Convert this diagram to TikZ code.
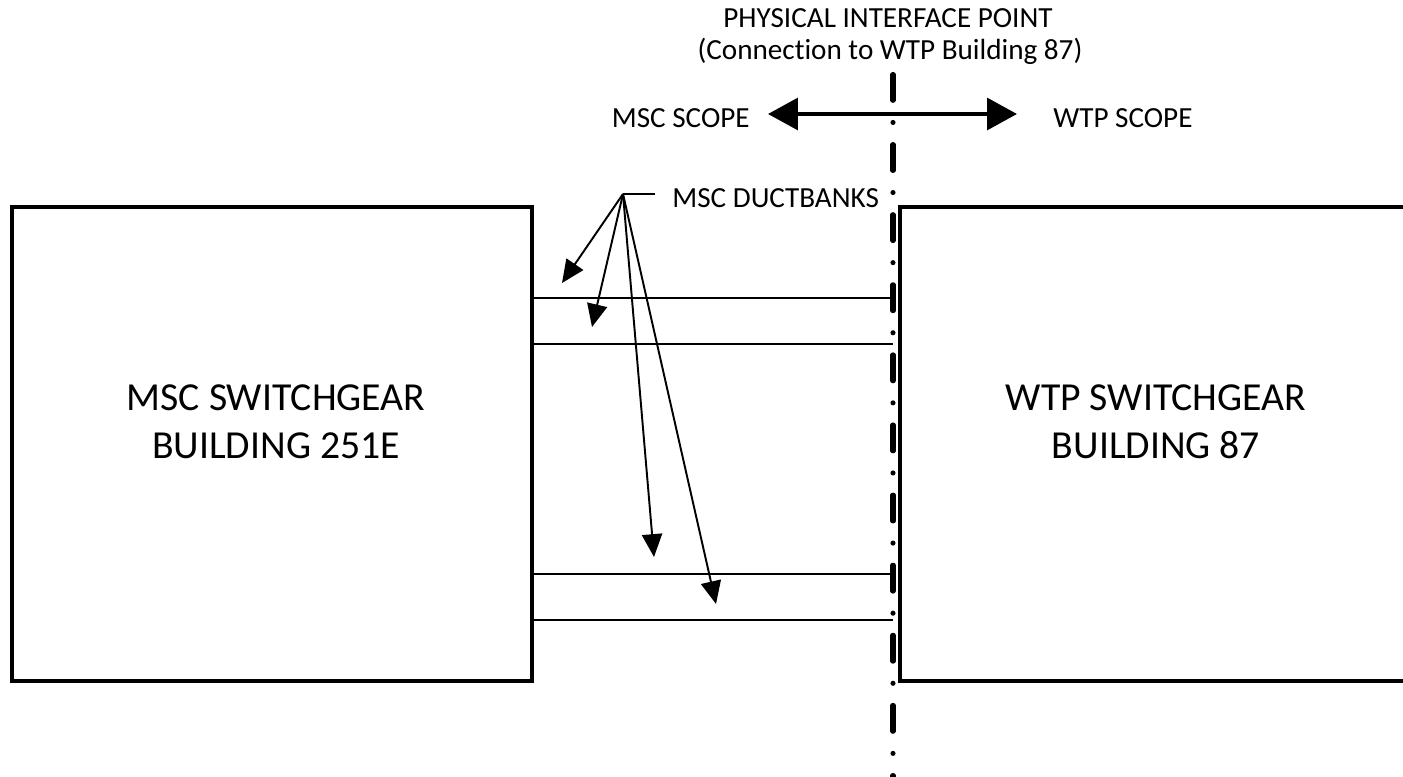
\documentclass[tikz,border=0pt]{standalone}
\usepackage{fontspec}
\setmainfont{Carlito}[Ligatures=NoCommon]
\usepackage{tikz}
\usetikzlibrary{arrows.meta,positioning,calc}
\usepackage{xcolor}
\definecolor{Ink}{HTML}{000000}

\begin{document}
\begin{tikzpicture}[x=0.02cm,y=-0.02cm,>=Latex,
  bldg/.style={draw=Ink,line width=2.1pt,minimum width=10.4cm,minimum height=9.48cm,inner sep=0pt},
  bigtxt/.style={align=center,text=Ink,font=\fontsize{22.6}{27.2}\selectfont},
  lbl/.style={inner sep=0pt,text=Ink,font=\fontsize{16.6}{19}\selectfont},
  duct/.style={draw=Ink,line width=1.2pt},
  iface/.style={draw=Ink,line width=2.9pt,line cap=round,
    dash pattern=on 14.7pt off 12.6pt on 0pt off 12.6pt},
  scopearrow/.style={{Triangle[length=17pt,width=18pt]}-{Triangle[length=17pt,width=18pt]},line width=2.3pt,Ink},
  pointer/.style={-{Triangle[length=13pt,width=11.5pt]},line width=1.1pt,Ink}]
  \useasboundingbox (0,0) rectangle (1403,777);
  \clip (0,0) rectangle (1403,777);
  % the two buildings, the right one runs off the page
  \node[bldg] (msc) at (272,444) {};
  \node[bldg] (wtp) at (1160,444) {};
  \node[bigtxt] (msctxt) at (276,422) {MSC SWITCHGEAR\\BUILDING 251E};
  \node[bigtxt] (wtptxt) at (1156,422) {WTP SWITCHGEAR\\BUILDING 87};
  % interface point
  \coordinate (ifTop) at (893,74.5);
  \coordinate (ifBot) at (893,800);
  \draw[iface] (ifTop) -- (ifBot);
  \node[lbl,anchor=base] (ipp) at (888,28) {PHYSICAL INTERFACE POINT};
  \node[lbl,anchor=base] (ippsub) at (890,60) {(Connection to WTP Building 87)};
  \node[lbl,anchor=base east] (mscscope) at (750,128) {MSC SCOPE};
  \node[lbl,anchor=base west] (wtpscope) at (1053,128) {WTP SCOPE};
  \coordinate (scopeL) at (768,114);
  \coordinate (scopeR) at (1017,114);
  \draw[scopearrow] (scopeL) -- (scopeR);
  % ductbanks
  \foreach \n/\y in {1/298,2/344,3/574,4/620}{
    \draw[duct] (msc.east |- 0,\y) -- (ifTop |- 0,\y);
  }
  \node[lbl,anchor=base west,inner xsep=0.34cm] (ductlbl) at (655,207) {MSC DUCTBANKS};
  \coordinate (fan) at (623,194);
  \draw[Ink,line width=1.1pt] (fan) -- (fan -| ductlbl.west);
  \coordinate (tip1) at (562,283);
  \coordinate (tip2) at (592,327);
  \coordinate (tip3) at (654,557);
  \coordinate (tip4) at (716,604);
  \foreach \t in {1,...,4}{
    \draw[pointer] (fan) -- (tip\t);
  }
\end{tikzpicture}
\end{document}
